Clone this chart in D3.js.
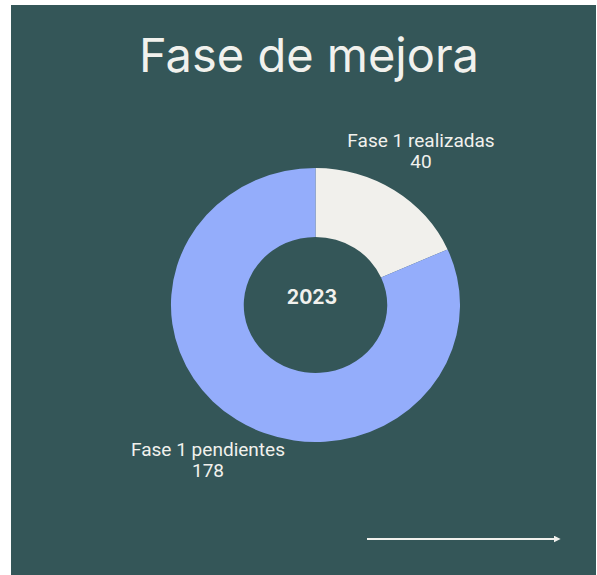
<!DOCTYPE html>
<html>
<head>
<meta charset="utf-8">
<script src="https://cdn.jsdelivr.net/npm/d3@7"></script>
<style>
  html, body { margin: 0; padding: 0; background: #ffffff; }
  svg { display: block; }
</style>
</head>
<body>
<script>
// Donut data: completed vs pending improvement tasks
const categories = ["Fase 1 realizadas", "Fase 1 pendientes"];
const values = [40, 178];
const yearLabel = "2023";
const title = "Fase de mejora";

const W = 597, H = 575;
const bg = "#345658";
const textColor = "#f1f1ed";
const colors = d3.scaleOrdinal().domain(categories).range(["#f1f0ec", "#94adfb"]);

const svg = d3.select("body").append("svg").attr("width", W).attr("height", H);

// panel
svg.append("rect").attr("x", 11).attr("y", 5).attr("width", 585).attr("height", H - 5).attr("fill", bg);

// title
svg.append("text")
  .attr("x", 309).attr("y", 72)
  .attr("text-anchor", "middle")
  .attr("font-family", "Inter, 'Open Sans', sans-serif")
  .attr("font-size", 47)
  .attr("font-weight", 380)
  .attr("fill", textColor)
  .text(title);

// donut
const cx = 315.5, cy = 305, rOuter = 137, rInner = 68, sx = 1.055;
const pie = d3.pie().sort(null).value(d => d.value);
const arc = d3.arc().innerRadius(rInner).outerRadius(rOuter);
const data = categories.map((c, i) => ({ name: c, value: values[i] }));

const g = svg.append("g").attr("transform", `translate(${cx},${cy}) scale(${sx},1)`);
g.selectAll("path").data(pie(data)).join("path")
  .attr("d", arc)
  .attr("fill", d => colors(d.data.name));

// centre label
svg.append("text")
  .attr("x", 312).attr("y", 304)
  .attr("text-anchor", "middle")
  .attr("font-family", "Inter, 'Open Sans', sans-serif")
  .attr("font-size", 19.5)
  .attr("font-weight", 700)
  .attr("fill", textColor)
  .text(yearLabel);

// slice labels (slightly widened lettering)
const labelPos = [
  { x: 421, y: 147 },
  { x: 208, y: 456 }
];
data.forEach((d, i) => {
  const t = svg.append("text")
    .attr("transform", `translate(${labelPos[i].x},${labelPos[i].y}) scale(1.07,1)`)
    .attr("text-anchor", "middle")
    .attr("font-family", "Roboto, 'Open Sans', sans-serif")
    .attr("font-size", 17.8)
    .attr("fill", textColor);
  t.append("tspan").attr("x", 0).attr("y", 0).text(d.name);
  t.append("tspan").attr("x", 0).attr("y", 21).text(d.value);
});

// arrow
svg.append("defs").append("marker")
  .attr("id", "head").attr("viewBox", "0 0 10 10")
  .attr("refX", 2).attr("refY", 5)
  .attr("markerWidth", 3.5).attr("markerHeight", 3.5)
  .attr("orient", "auto")
  .append("path").attr("d", "M0,0 L10,5 L0,10 Z").attr("fill", textColor);

svg.append("line")
  .attr("x1", 367).attr("x2", 555).attr("y1", 539).attr("y2", 539)
  .attr("stroke", textColor).attr("stroke-width", 2)
  .attr("marker-end", "url(#head)");
</script>
</body>
</html>
